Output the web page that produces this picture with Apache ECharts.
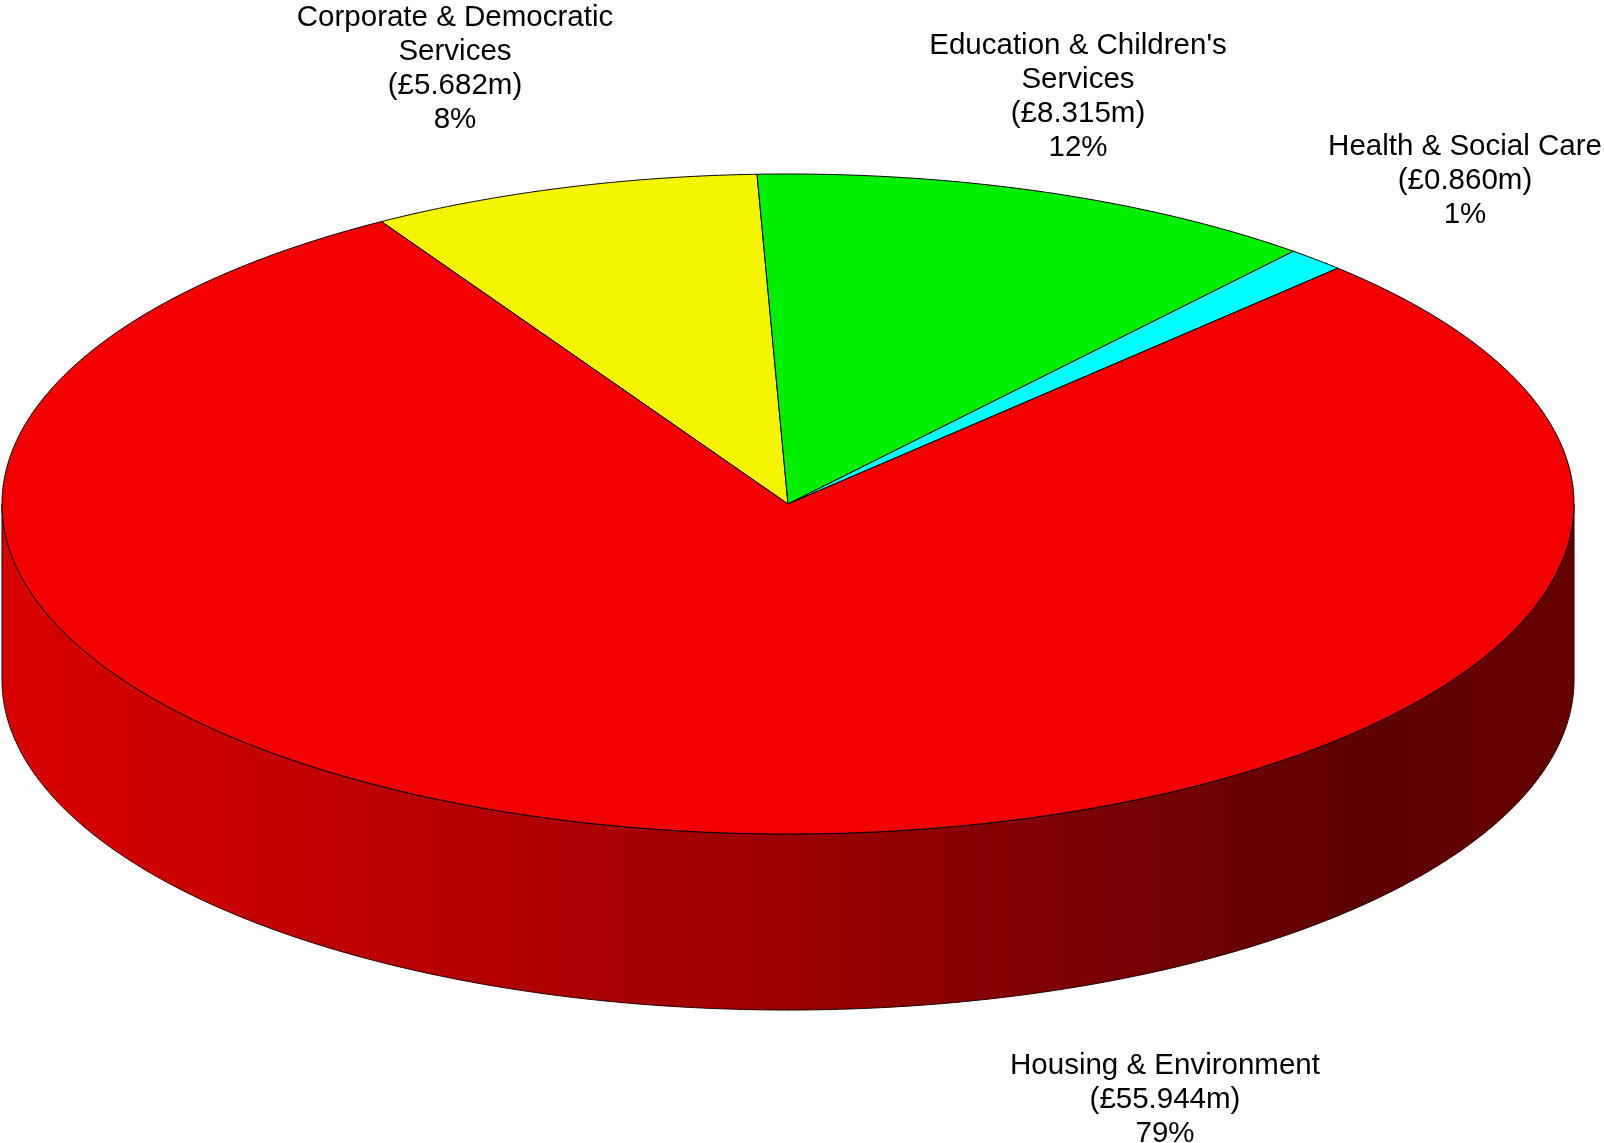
<!DOCTYPE html>
<html>
<head>
<meta charset="utf-8">
<title>Spending by service area</title>
<script src="https://cdn.jsdelivr.net/npm/echarts@6/dist/echarts.min.js"></script>
<style>
  html, body { margin: 0; padding: 0; background: #ffffff; }
  #chart { width: 1604px; height: 1143px; }
</style>
</head>
<body>
<div id="chart"></div>
<script>
// Service areas and their spend (£m)
const categories = [
  'Corporate & Democratic Services',
  "Education & Children's Services",
  'Health & Social Care',
  'Housing & Environment'
];
const amounts = [5.682, 8.315, 0.860, 55.944];

// Top-face colours per slice
const sliceColors = ['#f5f500', '#00ef00', '#00ffff', '#f20000'];

// Label block centres (x, y) in pixels
const labelCenters = [[455, 69], [1078, 97], [1465, 181], [1165, 1100]];

// Pie geometry: ellipse centre, radii, wall depth, first slice angle (deg)
const CX = 788, CY = 504, RX = 786, RY = 330, DEPTH = 176;
const START_DEG = 121.15;

const FONT_SIZE = 29.5;
const FONT_FAMILY = '"Liberation Sans", Arial, sans-serif';
const WRAP_WIDTH = 320;

const total = amounts.reduce((s, v) => s + v, 0);
const startAngles = [];
let acc = 0;
amounts.forEach(v => {
  startAngles.push(START_DEG * Math.PI / 180 - acc / total * 2 * Math.PI);
  acc += v;
});

// greedy word wrap so each centred line carries no trailing space
const measureCtx = document.createElement('canvas').getContext('2d');
measureCtx.font = FONT_SIZE + 'px ' + FONT_FAMILY;
function wrap(text) {
  const words = text.split(' ');
  const lines = [];
  let line = '';
  words.forEach(w => {
    const test = line ? line + ' ' + w : w;
    if (line && measureCtx.measureText(test).width > WRAP_WIDTH) {
      lines.push(line);
      line = w;
    } else {
      line = test;
    }
  });
  if (line) lines.push(line);
  return lines.join('\n');
}

function pt(t, dy) {
  return [CX + RX * Math.cos(t), CY - RY * Math.sin(t) + (dy || 0)];
}

function arcPoints(from, to, dy) {
  // sample ellipse from angle `from` to `to` (either direction)
  const pts = [];
  const n = Math.max(2, Math.ceil(Math.abs(from - to) / (0.25 * Math.PI / 180)));
  for (let i = 0; i <= n; i++) {
    pts.push(pt(from + (to - from) * i / n, dy));
  }
  return pts;
}

const sideFill = {
  type: 'linear', global: true,
  x: CX - RX, y: 0, x2: CX + RX, y2: 0,
  colorStops: [
    { offset: 0, color: '#d80000' },
    { offset: 0.5, color: '#9c0000' },
    { offset: 0.86, color: '#5e0000' },
    { offset: 1, color: '#650000' }
  ]
};

function renderItem(params, api) {
  const i = params.dataIndex;
  const value = api.value(0);
  const a0 = startAngles[i];
  const a1 = a0 - value / total * 2 * Math.PI;
  const children = [];

  // visible front wall: angles in [-PI, 0] (+2PI k)
  for (let k = -1; k <= 1; k++) {
    const lo = Math.max(a1, -Math.PI + 2 * Math.PI * k);
    const hi = Math.min(a0, 2 * Math.PI * k);
    if (lo < hi) {
      const top = arcPoints(hi, lo, 0);
      const bottom = arcPoints(lo, hi, DEPTH);
      children.push({
        type: 'polygon',
        z2: 1,
        shape: { points: top.concat(bottom) },
        style: { fill: sideFill, stroke: '#1a0000', lineWidth: 1 }
      });
    }
  }

  // top face
  children.push({
    type: 'polygon',
    z2: 10,
    shape: { points: [[CX, CY]].concat(arcPoints(a0, a1, 0)) },
    style: { fill: sliceColors[i], stroke: '#000000', lineWidth: 1, lineJoin: 'round' }
  });

  // label
  const pct = Math.round(value / total * 100);
  const c = labelCenters[i];
  children.push({
    type: 'text',
    z2: 20,
    x: c[0],
    y: c[1],
    style: {
      text: wrap(categories[i]) + '\n(£' + value.toFixed(3) + 'm)\n' + pct + '%',
      fill: '#000000',
      fontSize: FONT_SIZE,
      fontFamily: FONT_FAMILY,
      lineHeight: 34,
      align: 'center',
      verticalAlign: 'middle'
    }
  });

  return { type: 'group', children: children };
}

const chart = echarts.init(document.getElementById('chart'), null, { renderer: 'canvas' });
chart.setOption({
  backgroundColor: '#ffffff',
  animation: false,
  series: [{
    type: 'custom',
    coordinateSystem: 'none',
    silent: true,
    data: amounts.map(v => [v]),
    renderItem: renderItem
  }]
});
</script>
</body>
</html>
